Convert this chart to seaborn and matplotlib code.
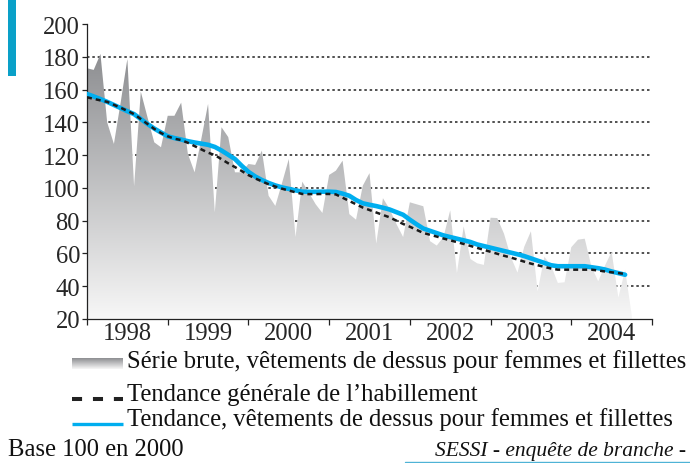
import numpy as np
import pandas as pd
import matplotlib
matplotlib.use("Agg")
import matplotlib.pyplot as plt
import seaborn as sns
from matplotlib.colors import LinearSegmentedColormap
from matplotlib.patches import Rectangle

# ---------------------------------------------------
# données (indices mensuels, base 100 en 2000, janv. 1998 -> oct. 2004)
# ---------------------------------------------------
serie_brute = [173, 172, 181.7, 140, 126.8, 152, 178.6, 101, 158.7, 143, 127.8, 124.8,
               144, 144, 152, 120.7, 109.5, 130, 151.2, 85, 137, 131, 109.5, 109.5,
               114.6, 114, 122.7, 95.2, 89, 103, 117.6, 70, 103.8, 97, 90, 84.7,
               107.9, 110.5, 116.6, 84, 80.6, 101.3, 109, 66, 93.7, 87, 78, 70,
               91.2, 90, 88.8, 67.5, 64.8, 70, 86.3, 48, 76.5, 56.6, 54, 53,
               81.8, 81.6, 72, 58, 48.3, 64, 73.5, 36.8, 58, 52.5, 42, 42.4,
               63.8, 68.4, 69, 52, 43, 52.5, 61, 33, 50, 22]

tendance_femmes = [157.3, 155.8, 154.2, 152.5, 150.6, 148.7, 146.8, 145, 142, 139, 136.2, 133.8,
                   131.5, 130.4, 129.5, 128.5, 127.7, 127, 126.3, 125, 122.8, 120.2, 117.6, 113.5,
                   109.8, 107, 104.8, 103, 101.5, 100.3, 99.4, 98.5, 97.7, 97.6, 97.6, 97.7,
                   97.7, 97.5, 96.5, 95.2, 92.6, 90.6, 89.7, 88.9, 87.9, 86.8, 85.2, 83.6,
                   80.6, 77.8, 75.2, 73.8, 72.4, 71, 70, 69, 68, 67, 65.5, 64.5,
                   63.5, 62.5, 61.5, 60.5, 59.5, 58.4, 57, 55.6, 54.2, 52.8, 52.2, 52.2,
                   52.2, 52.2, 52.2, 51.6, 51, 50.2, 49, 48, 47]

tendance_habillement = [155.3, 154.3, 153.4, 152.5, 150.7, 148.9, 147, 145, 142, 139, 136, 133.5,
                        131.5, 130, 129.2, 127.5, 125.5, 123.5, 121.5, 120, 117.5, 115, 112.7, 110.3,
                        107.8, 105.8, 104, 102.2, 100.8, 99.5, 98.4, 97.3, 96.3, 96.2, 96.2, 96.3,
                        96.3, 96, 94, 92, 90, 88, 86.5, 85, 83.5, 82, 80, 78,
                        76.3, 74.4, 72.5, 71.4, 70.3, 69.1, 68, 66.9, 65.8, 64.6, 63.4, 62.2,
                        61, 59.8, 58.6, 57.5, 56.3, 55, 53.8, 52.8, 51.8, 50.8, 50.1, 50.1,
                        50.1, 50.1, 50.1, 50.1, 49.6, 49, 48.5, 48, 47.5]

annees = ['1998', '1999', '2000', '2001', '2002', '2003', '2004']
graduations_y = [20, 40, 60, 80, 100, 120, 140, 160, 180, 200]

libelles = ['Série brute, vêtements de dessus pour femmes et fillettes',
            'Tendance générale de l\u2019habillement',
            'Tendance, vêtements de dessus pour femmes et fillettes']

df_brut = pd.DataFrame({'t': 1998 + np.arange(len(serie_brute)) / 12, 'indice': serie_brute})
df_tend = pd.DataFrame({'t': 1998 + np.arange(len(tendance_femmes)) / 12,
                        'femmes': tendance_femmes,
                        'habillement': tendance_habillement})

# ---------------------------------------------------
# style
# ---------------------------------------------------
sns.set_style('white')
plt.rcParams['font.family'] = ['Liberation Serif', 'DejaVu Serif']
taille = 17.7
bleu = '#00aeef'

fig = plt.figure(figsize=(6.9, 4.64), dpi=100)
ax = fig.add_axes([87 / 690, 144 / 464, 565 / 690, 295 / 464])

# série brute : aire en dégradé gris
aire = ax.fill_between(df_brut['t'], 20, df_brut['indice'], color='none', lw=0)
degrade = np.linspace(0, 1, 256).reshape(-1, 1)
cmap = LinearSegmentedColormap.from_list('gris', ['#f7f7f7', '#8d8e91'])
im = ax.imshow(degrade, extent=[1998, 2005, 20, max(serie_brute)], origin='lower',
               aspect='auto', cmap=cmap, zorder=1, interpolation='bilinear')
im.set_clip_path(aire.get_paths()[0], transform=ax.transData)

# tendances
sns.lineplot(data=df_tend, x='t', y='femmes', ax=ax, color=bleu, lw=3.3, zorder=3)
sns.lineplot(data=df_tend, x='t', y='habillement', ax=ax, color='#1a1a1a', lw=1.8, zorder=4)
ax.lines[-1].set_dashes([2.0, 1.6])

ax.set_xlim(1998, 2005)
ax.set_ylim(20, 200)
ax.set_xlabel('')
ax.set_ylabel('')

# axes
ax.set_yticks(graduations_y)
ax.set_yticklabels([str(v) for v in graduations_y], fontsize=taille)
ax.set_xticks(np.arange(1998, 2006))
ax.set_xticklabels([])
ax.set_xticks(np.arange(1998, 2005) + 0.5, minor=True)
ax.set_xticklabels(annees, minor=True, fontsize=taille)
ax.tick_params(axis='y', which='major', direction='out', length=3.5, width=0.9,
               color='#222222', pad=1.5, left=True)
ax.tick_params(axis='x', which='major', direction='out', length=4.5, width=0.9,
               color='#222222', bottom=True)
ax.tick_params(axis='x', which='minor', length=0, pad=2)

for side in ['top', 'right']:
    ax.spines[side].set_visible(False)
for side in ['left', 'bottom']:
    ax.spines[side].set_color('#222222')
    ax.spines[side].set_linewidth(0.9)

ax.grid(axis='y', color='#333333', lw=1.2, linestyle=(0, (1.5, 1.7)), zorder=0)
ax.set_axisbelow(True)
gl = ax.get_ygridlines()
gl[0].set_visible(False)
gl[-1].set_visible(False)

# ---------------------------------------------------
# légende et sources (repère en pixels)
# ---------------------------------------------------
lax = fig.add_axes([0, 0, 1, 1], zorder=-1)
lax.set_facecolor('none')
lax.imshow(np.linspace(1, 0, 64).reshape(-1, 1), extent=[72, 123, 370, 359],
           origin='upper', aspect='auto', cmap=cmap, interpolation='bilinear')
lax.plot([72, 123], [400, 400], color='#222222', lw=2.9, dashes=[2.5, 2.7],
         solid_capstyle='butt', dash_capstyle='butt')
lax.plot([72, 123], [424.5, 424.5], color=bleu, lw=2.4, solid_capstyle='butt')
lax.plot([405, 690], [463, 463], color='#4fb3d6', lw=1)
lax.add_patch(Rectangle((8, 0), 8, 77, color='#0aa0c8', lw=0))
lax.set_xlim(0, 690)
lax.set_ylim(464, 0)
lax.axis('off')

for y, txt in zip([368, 401, 426], libelles):
    lax.text(127, y, txt, fontsize=taille, va='baseline', ha='left', color='#111111')
lax.text(8, 456, 'Base 100 en 2000', fontsize=taille, va='baseline', ha='left', color='#111111')
lax.text(686, 456, 'SESSI - enquête de branche -', fontsize=15.5, style='italic',
         va='baseline', ha='right', color='#111111')

plt.savefig('out.png', dpi=100)
